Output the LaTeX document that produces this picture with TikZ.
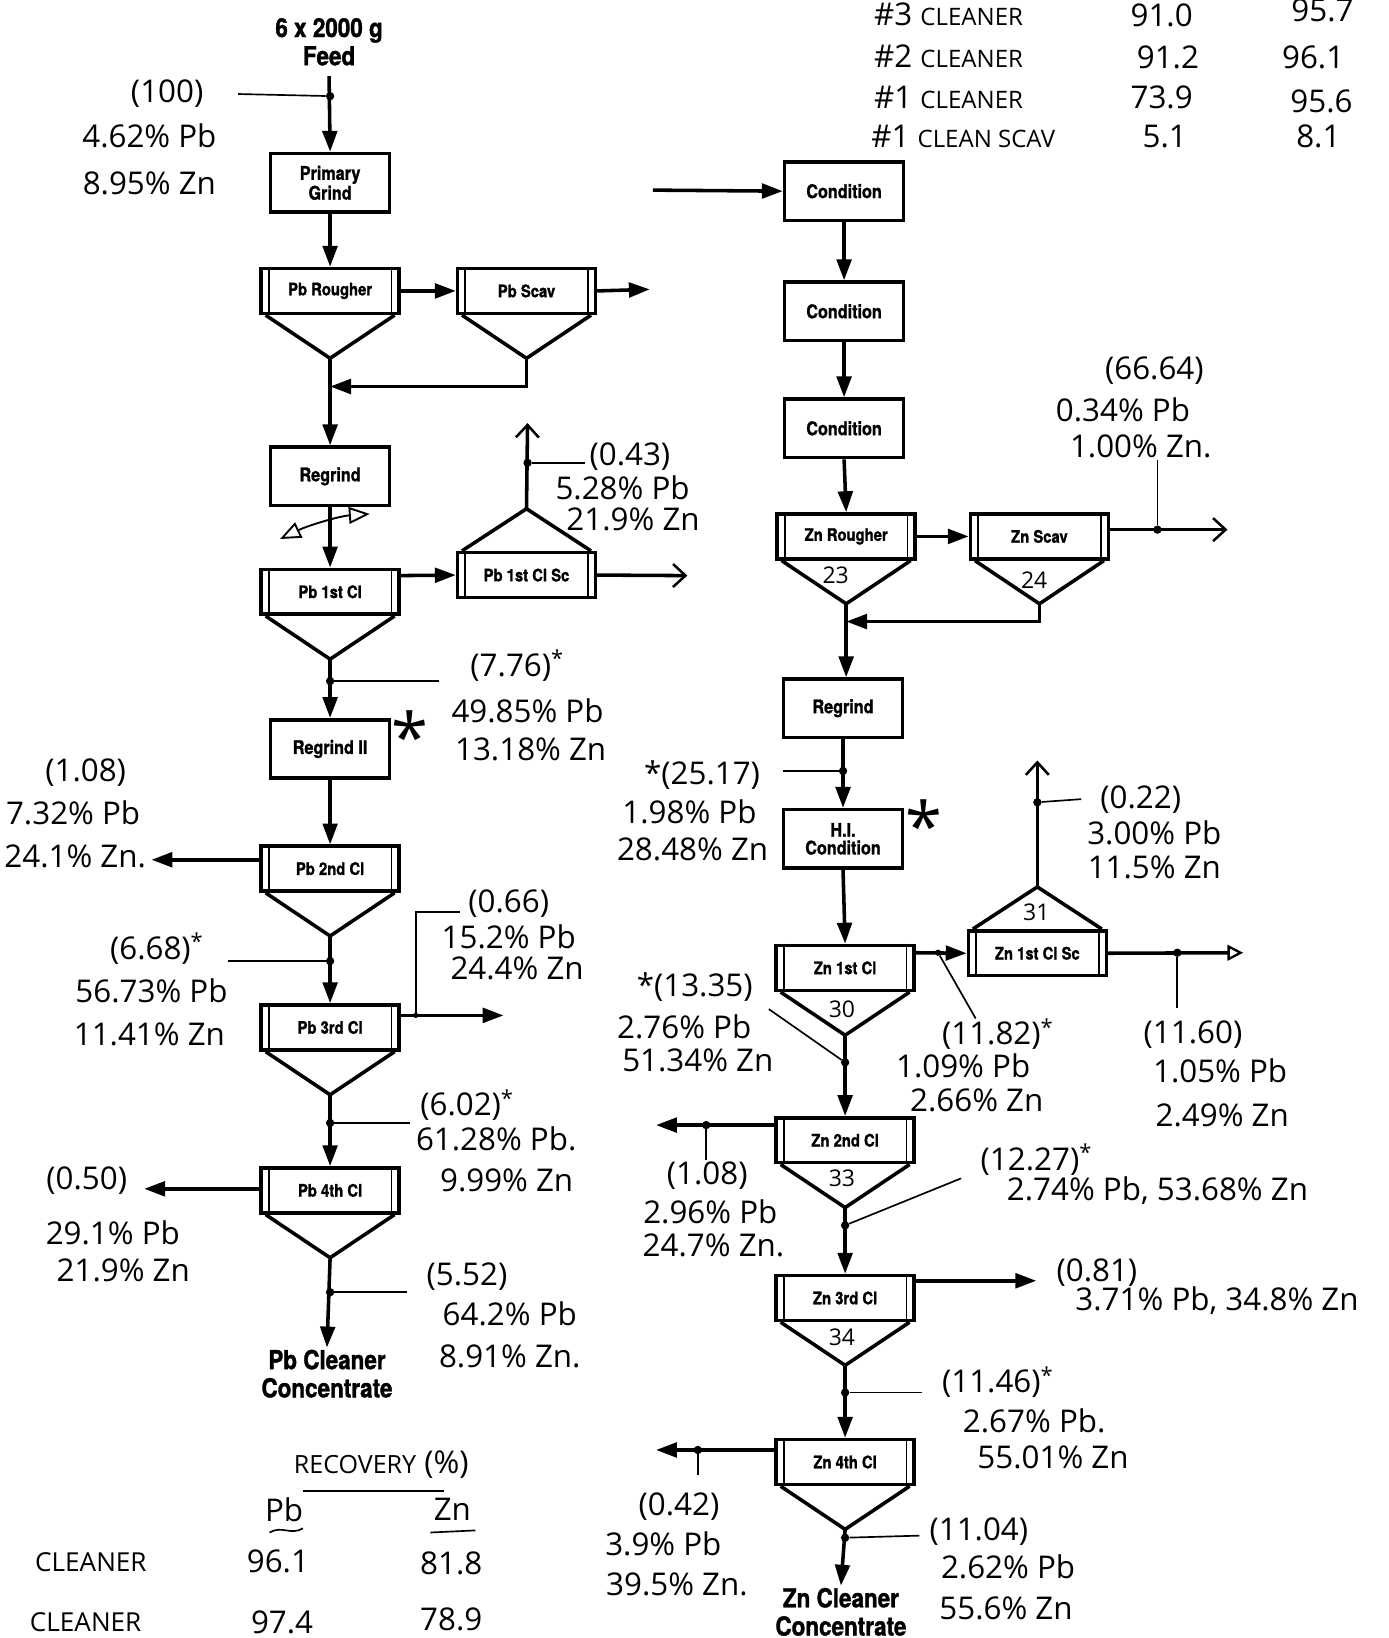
\documentclass[tikz,border=0pt]{standalone}
\usepackage{fontspec}
\setmainfont{Open Sans}
\newfontfamily\boxfont[FakeStretch=0.86,BoldFeatures={FakeBold=1.3}]{TeX Gyre Heros}
\usetikzlibrary{arrows.meta}
\newcommand\flot[4]{%
  \node[cellbox] (#1) at (#2,#3+21.5) {#4};
  \draw[sidebar] ([xshift=9pt]#1.north west) -- ([xshift=9pt]#1.south west);
  \draw[sidebar] ([xshift=-9pt]#1.north east) -- ([xshift=-9pt]#1.south east);
  \draw[heavy] ([xshift=6pt]#1.south west) -- (#2,#3+86) coordinate (#1-a) -- ([xshift=-6pt]#1.south east);
}
\newcommand\flotup[4]{%
  \node[cellbox] (#1) at (#2,#3+21.5) {#4};
  \draw[sidebar] ([xshift=9pt]#1.north west) -- ([xshift=9pt]#1.south west);
  \draw[sidebar] ([xshift=-9pt]#1.north east) -- ([xshift=-9pt]#1.south east);
  \draw[heavy] ([xshift=6pt]#1.north west) -- (#2,#3-42) coordinate (#1-a) -- ([xshift=-6pt]#1.north east);
}
\begin{document}
\begin{tikzpicture}[x=1pt,y=-1pt,
  heavy/.style={line width=3.4pt, line join=miter},
  sidebar/.style={line width=1.6pt},
  flow/.style={heavy, -{Triangle[length=20pt,width=14pt]}},
  flowb/.style={heavy, -{Straight Barb[length=12pt,width=22pt,line width=2.4pt]}},
  flowo/.style={heavy, -{Triangle[open,length=15pt,width=15pt,line width=2.2pt]}},
  lead/.style={line width=1.6pt},
  hand/.style={font=\fontsize{30}{34}\selectfont, inner sep=1pt},
  handsm/.style={font=\fontsize{22}{26}\selectfont, inner sep=1pt},
  unitbox/.style={draw, heavy, minimum width=114pt, minimum height=56pt, align=center, font=\boxfont\bfseries\fontsize{18}{19}\selectfont, inner sep=2pt},
  cellbox/.style={draw, heavy, minimum width=132pt, minimum height=43pt, font=\boxfont\bfseries\fontsize{16.5}{17}\selectfont, inner sep=1pt},
  headtxt/.style={font=\boxfont\bfseries\fontsize{25}{27}\selectfont, align=center, inner sep=0pt},
  jd/.style={circle, fill, inner sep=0pt, minimum size=8pt},
  bigstar/.style={font=\fontsize{64}{64}\selectfont, inner sep=0pt}
]
\useasboundingbox (0,0) rectangle (1329,1568);

% ================= Top-right table =================
\node[hand] (r3a) at (908,14) {\#3 {\fontsize{23}{24}\selectfont CLEANER}};
\node[hand] (r3b) at (1112,15) {91.0};
\node[hand] (r3c) at (1266,10) {95.7};
\node[hand] (r2a) at (908,54) {\#2 {\fontsize{23}{24}\selectfont CLEANER}};
\node[hand] (r2b) at (1118,55) {91.2};
\node[hand] (r2c) at (1257,55) {96.1};
\node[hand] (r1a) at (908,93) {\#1 {\fontsize{23}{24}\selectfont CLEANER}};
\node[hand] (r1b) at (1112,93) {73.9};
\node[hand] (r1c) at (1265,97) {95.6};
\node[hand] (r0a) at (922,131) {\#1 {\fontsize{23}{24}\selectfont CLEAN SCAV}};
\node[hand] (r0b) at (1115,131) {5.1};
\node[hand] (r0c) at (1262,131) {8.1};

% ================= Pb circuit =================
\node[headtxt] (feed) at (315,40) {6 x 2000 g\\Feed};
\node[unitbox] (pg) at (316,175) {Primary\\Grind};
\node[jd] (d100) at (316,92) {};
\draw[flow] ([yshift=-10pt]feed.south) -- (pg.north);
\coordinate (l100) at (228,90);
\draw[lead] (l100) -- (d100);
\node[hand] (t100) at (160,90) {(100)};
\node[hand] (t100b) at (143,130) {4.62\% Pb};
\node[hand] (t100c) at (143,176) {8.95\% Zn};

\flot{pr}{316}{257}{Pb Rougher}
\flot{ps}{504}{257}{Pb Scav}
\draw[flow] (pg.south) -- (pr.north);
\draw[flow] (pr.east) -- (ps.west);
\coordinate (psout) at (622,277);
\draw[flow] (ps.east) -- (psout);
\node[unitbox] (rg) at (316,456) {Regrind};
\coordinate (j1) at (316,370);
\draw[flow] (ps-a) |- (j1);
\draw[flow] (pr-a) -- (rg.north);

\flot{p1}{316}{545}{Pb 1st Cl}
\draw[flow] (rg.south) -- (p1.north);
\draw[line width=1.8pt, {Triangle[open,length=20pt,width=16pt,line width=1.8pt]}-{Triangle[open,length=20pt,width=16pt,line width=1.8pt]}]
  (268,516) .. controls (295,503) and (325,494) .. (354,492);

\flotup{p1s}{504}{529}{Pb 1st Cl Sc}
\coordinate (p1in) at (382,551);
\draw[flow] (p1in) -- (p1s.west);
\coordinate (p1sout) at (658,551);
\draw[flowb] (p1s.east) -- (p1sout);
\coordinate (p1sup) at (505,405);
\draw[flowb] (p1s-a) -- (p1sup);
\node[jd] (d043) at (505,443) {};
\coordinate (l043) at (560,443);
\draw[lead] (d043) -- (l043);
\node[hand] (t043) at (603,437) {(0.43)};
\node[hand] (t043b) at (596,467) {5.28\% Pb};
\node[hand] (t043c) at (606,497) {21.9\% Zn};

\node[unitbox] (rg2) at (316,717) {Regrind II};
\draw[flow] (p1-a) -- (rg2.north);
\node[jd] (d776) at (316,652) {};
\coordinate (l776) at (420,652);
\draw[lead] (d776) -- (l776);
\node[hand] (t776) at (495,637) {(7.76)\textsuperscript{*}};
\node[hand] (t776b) at (505,680) {49.85\% Pb};
\node[hand] (t776c) at (508,717) {13.18\% Zn};
\node[bigstar] (s1) at (392,705) {*};

\flot{p2}{316}{810}{Pb 2nd Cl}
\draw[flow] (rg2.south) -- (p2.north);
\coordinate (p2out) at (145,823);
\draw[flow] (p2.west |- p2out) -- (p2out);
\node[hand] (t108) at (82,740) {(1.08)};
\node[hand] (t108b) at (70,778) {7.32\% Pb};
\node[hand] (t108c) at (72,820) {24.1\% Zn.};

\flot{p3}{316}{962}{Pb 3rd Cl}
\draw[flow] (p2-a) -- (p3.north);
\node[jd] (d668) at (316,920) {};
\coordinate (l668) at (218,920);
\draw[lead] (l668) -- (d668);
\node[hand] (t668) at (150,908) {(6.68)\textsuperscript{*}};
\node[hand] (t668b) at (145,948) {56.73\% Pb};
\node[hand] (t668c) at (143,990) {11.41\% Zn};

\coordinate (p3out) at (482,972);
\draw[flow] (p3.east |- p3out) -- (p3out);
\node[jd, minimum size=5pt] (d066) at (398,972) {};
\coordinate (l066) at (440,873);
\draw[lead] (d066) |- (l066);
\node[hand] (t066) at (487,865) {(0.66)};
\node[hand] (t066b) at (487,897) {15.2\% Pb};
\node[hand] (t066c) at (495,927) {24.4\% Zn};

\flot{p4}{316}{1118}{Pb 4th Cl}
\draw[flow] (p3-a) -- (p4.north);
\node[jd] (d602) at (316,1075) {};
\coordinate (l602) at (392,1075);
\draw[lead] (d602) -- (l602);
\node[hand] (t602) at (447,1058) {(6.02)\textsuperscript{*}};
\node[hand] (t602b) at (475,1090) {61.28\% Pb.};
\node[hand] (t602c) at (485,1130) {9.99\% Zn};

\coordinate (p4out) at (138,1138);
\draw[flow] (p4.west |- p4out) -- (p4out);
\node[hand] (t050) at (83,1130) {(0.50)};
\node[hand] (t050b) at (108,1180) {29.1\% Pb};
\node[hand] (t050c) at (118,1216) {21.9\% Zn};

\node[headtxt] (pbcon) at (313,1315) {Pb Cleaner\\Concentrate};
\draw[flow] (p4-a) -- ([yshift=2pt]pbcon.north);
\node[jd] (d552) at (316,1237) {};
\coordinate (l552) at (390,1237);
\draw[lead] (d552) -- (l552);
\node[hand] (t552) at (447,1222) {(5.52)};
\node[hand] (t552b) at (488,1258) {64.2\% Pb};
\node[hand] (t552c) at (488,1298) {8.91\% Zn.};

% Recovery table
\node[hand] (rec) at (365,1402) {{\fontsize{24}{26}\selectfont RECOVERY} (\%)};
\coordinate (ru1) at (290,1427);
\coordinate (ru2) at (425,1427);
\draw[lead] (ru1) -- (ru2);
\node[hand] (rpb) at (272,1445) {Pb};
\node[hand] (rzn) at (433,1445) {Zn};
\coordinate (pu1) at (258,1467);
\coordinate (pu2) at (290,1463);
\draw[lead] (pu1) .. controls (270,1460) and (278,1470) .. (pu2);
\coordinate (zu1) at (412,1467);
\coordinate (zu2) at (455,1465);
\draw[lead] (zu1) -- (zu2);
\node[hand] (rc1) at (87,1495) {{\fontsize{25}{26}\selectfont CLEANER}};
\node[hand] (rc1a) at (266,1495) {96.1};
\node[hand] (rc1b) at (432,1497) {81.8};
\node[hand] (rc2) at (82,1553) {{\fontsize{25}{26}\selectfont CLEANER}};
\node[hand] (rc2a) at (270,1553) {97.4};
\node[hand] (rc2b) at (432,1550) {78.9};

% ================= Zn circuit =================
\node[unitbox] (c1) at (808,183) {Condition};
\node[unitbox] (c2) at (808,298) {Condition};
\node[unitbox] (c3) at (808,410) {Condition};
\coordinate (cin) at (625,182);
\draw[flow] (cin) -- (c1.west);
\draw[flow] (c1.south) -- (c2.north);
\draw[flow] (c2.south) -- (c3.north);

\flot{zr}{810}{492}{Zn Rougher}
\flot{zs}{995}{492}{Zn Scav}
\node[handsm] (n23) at (800,551) {23};
\node[handsm] (n24) at (990,555) {24};
\draw[flow] (c3.south) -- (zr.north);
\draw[flow] (zr.east) -- (zs.west);
\coordinate (zsout) at (1175,507);
\draw[flowb] (zs.east |- zsout) -- (zsout);
\node[jd] (d6664) at (1108,507) {};
\coordinate (l6664) at (1108,440);
\draw[lead] (d6664) -- (l6664);
\node[hand] (t6664) at (1105,355) {(66.64)};
\node[hand] (t6664b) at (1075,392) {0.34\% Pb};
\node[hand] (t6664c) at (1092,427) {1.00\% Zn.};

\node[unitbox] (zrg) at (807,678) {Regrind};
\coordinate (j2) at (810,595);
\draw[flow] (zs-a) |- (j2);
\draw[flow] (zr-a) -- (zrg.north -| zr-a);

\node[unitbox] (hic) at (807,803) {H.I.\\[-2pt]Condition};
\draw[flow] (zrg.south) -- (hic.north);
\node[jd] (d2517) at (807,738) {};
\coordinate (l2517) at (750,738);
\draw[lead] (l2517) -- (d2517);
\node[hand] (t2517) at (672,742) {*(25.17)};
\node[hand] (t2517b) at (660,777) {1.98\% Pb};
\node[hand] (t2517c) at (663,813) {28.48\% Zn};
\node[bigstar] (s2) at (884,790) {*};

\flot{z1}{809}{905}{Zn 1st Cl}
\node[handsm] (n30) at (806,966) {30};
\draw[flow] (hic.south) -- (z1.north);
\flotup{z1s}{993}{891}{Zn 1st Cl Sc}
\node[handsm] (n31) at (992,873) {31};
\coordinate (z1in) at (875,912);
\draw[flow] (z1in) -- (z1s.west);
\coordinate (z1sout) at (1190,912);
\draw[flowo] (z1s.east) -- (z1sout);
\coordinate (z1sup) at (993,728);
\draw[flowb] (z1s-a) -- (z1sup);
\node[jd] (d022) at (993,768) {};
\coordinate (l022) at (1035,765);
\draw[lead] (d022) -- (l022);
\node[hand] (t022) at (1092,765) {(0.22)};
\node[hand] (t022b) at (1105,797) {3.00\% Pb};
\node[hand] (t022c) at (1105,830) {11.5\% Zn};

\node[jd] (d1160) at (1127,912) {};
\coordinate (l1160) at (1127,965);
\draw[lead] (d1160) -- (l1160);
\node[hand] (t1160) at (1142,990) {(11.60)};
\node[hand] (t1160b) at (1168,1025) {1.05\% Pb};
\node[hand] (t1160c) at (1170,1068) {2.49\% Zn};

\node[jd, minimum size=6pt] (d1182) at (898,912) {};
\coordinate (l1182) at (934,975);
\draw[lead] (d1182) -- (l1182);
\node[hand] (t1182) at (955,990) {(11.82)\textsuperscript{*}};
\node[hand] (t1182b) at (922,1020) {1.09\% Pb};
\node[hand] (t1182c) at (935,1053) {2.66\% Zn};

\flot{z2}{809}{1070}{Zn 2nd Cl}
\node[handsm] (n33) at (806,1128) {33};
\draw[flow] (z1-a) -- (z2.north);
\node[jd] (d1335) at (809,1017) {};
\coordinate (l1335) at (736,966);
\draw[lead] (l1335) -- (d1335);
\node[hand] (t1335) at (665,945) {*(13.35)};
\node[hand] (t1335b) at (655,983) {2.76\% Pb};
\node[hand] (t1335c) at (668,1015) {51.34\% Zn};

\coordinate (z2out) at (628,1077);
\draw[flow] (z2.west |- z2out) -- (z2out);
\node[jd] (dz108) at (676,1077) {};
\coordinate (lz108) at (676,1110);
\draw[lead] (dz108) -- (lz108);
\node[hand] (tz108) at (677,1125) {(1.08)};
\node[hand] (tz108b) at (680,1160) {2.96\% Pb};
\node[hand] (tz108c) at (683,1192) {24.7\% Zn.};

\flot{z3}{809}{1221}{Zn 3rd Cl}
\node[handsm] (n34) at (806,1280) {34};
\draw[flow] (z2-a) -- (z3.north);
\node[jd] (d1227) at (809,1173) {};
\coordinate (l1227) at (920,1128);
\draw[lead] (d1227) -- (l1227);
\node[hand] (t1227) at (992,1110) {(12.27)\textsuperscript{*}};
\node[hand] (t1227b) at (1108,1140) {2.74\% Pb, 53.68\% Zn};

\coordinate (z3out) at (992,1226);
\draw[flow] (z3.east |- z3out) -- (z3out);
\node[hand] (t081) at (1050,1218) {(0.81)};
\node[hand] (t081b) at (1165,1245) {3.71\% Pb, 34.8\% Zn};

\flot{z4}{809}{1378}{Zn 4th Cl}
\draw[flow] (z3-a) -- (z4.north);
\node[jd] (d1146) at (809,1333) {};
\coordinate (l1146) at (883,1333);
\draw[lead] (d1146) -- (l1146);
\node[hand] (t1146) at (955,1323) {(11.46)\textsuperscript{*}};
\node[hand] (t1146b) at (990,1360) {2.67\% Pb.};
\node[hand] (t1146c) at (1008,1395) {55.01\% Zn};

\coordinate (z4out) at (628,1388);
\draw[flow] (z4.west |- z4out) -- (z4out);
\node[jd] (d042) at (668,1388) {};
\coordinate (l042) at (668,1412);
\draw[lead] (d042) -- (l042);
\node[hand] (t042) at (650,1442) {(0.42)};
\node[hand] (t042b) at (635,1478) {3.9\% Pb};
\node[hand] (t042c) at (648,1517) {39.5\% Zn.};

\node[headtxt] (zncon) at (805,1543) {Zn Cleaner\\Concentrate};
\draw[flow] (z4-a) -- ([yshift=2pt]zncon.north);
\node[jd] (d1104) at (809,1472) {};
\coordinate (l1104) at (880,1470);
\draw[lead] (d1104) -- (l1104);
\node[hand] (t1104) at (937,1466) {(11.04)};
\node[hand] (t1104b) at (965,1500) {2.62\% Pb};
\node[hand] (t1104c) at (963,1540) {55.6\% Zn};
\end{tikzpicture}
\end{document}
